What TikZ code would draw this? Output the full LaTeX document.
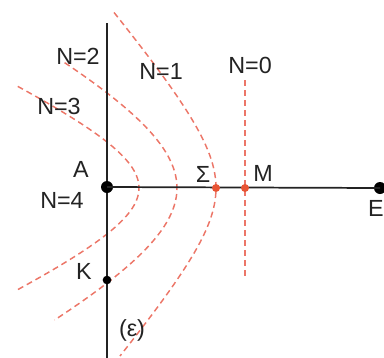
\documentclass[tikz,border=0pt]{standalone}
\usepackage{fontspec}
\setmainfont{Liberation Sans}
\definecolor{wave}{RGB}{236,118,104}
\definecolor{reddot}{RGB}{232,84,52}
\definecolor{ink}{RGB}{35,35,35}
\begin{document}
\begin{tikzpicture}[x=0.75pt,y=-0.75pt,
  lab/.style={inner sep=0pt,font=\fontsize{17.5}{19}\selectfont,text=ink},
  wavefront/.style={wave,line width=1.1pt,dash pattern=on 4.5pt off 3pt},
  axis/.style={ink,line width=1.3pt},
  bigdot/.style={circle,fill=black,inner sep=0pt,minimum size=9pt},
  smalldot/.style={circle,fill=black,inner sep=0pt,minimum size=6.5pt},
  reddotst/.style={circle,fill=reddot,inner sep=0pt,minimum size=6pt}]
\useasboundingbox (0,0) rectangle (384,357);
% wavefronts (hyperbolic arcs)
\draw[wavefront] plot[domain=-1.65:1.61,samples=80,variable=\t] ({276-60*cosh(\t)},{188+70*sinh(\t)});
\draw[wavefront] plot[domain=-0.97:1.01,samples=80,variable=\t] ({398-221*cosh(\t)},{188+111*sinh(\t)});
\draw[wavefront] plot[domain=-1.24:1.24,samples=80,variable=\t] ({278-139*cosh(\t)},{188+64.2*sinh(\t)});
\coordinate (n0top) at (245,80);
\coordinate (n0bot) at (245,280);
\draw[wavefront] (n0top) -- (n0bot);
% axes
\coordinate (etop) at (107,23);
\coordinate (ebot) at (107,360);
\draw[axis] (etop) -- (ebot);
\node[bigdot] (A) at (107,187) {};
\node[smalldot] (K) at (107,280) {};
\node[bigdot] (E) at (380,188) {};
\draw[axis] (A.center) -- (E.center);
\node[reddotst] (S) at (216,188) {};
\node[reddotst] (M) at (245,188) {};
% labels
\node[lab] (l2) at (78,56) {N=2};
\node[lab] (l1) at (161,71) {N=1};
\node[lab] (l3) at (59,106) {N=3};
\node[lab] (lA) at (81,169) {A};
\node[lab] (l4) at (62,200) {N=4};
\node[lab] (lK) at (84,271) {K};
\node[lab] (leps) at (132,330) {(ε)};
\node[lab] (l0) at (250,65) {N=0};
\node[lab] (lS) at (203,174) {Σ};
\node[lab] (lM) at (263,173) {M};
\node[lab] (lE) at (376,208) {E};
\end{tikzpicture}
\end{document}
